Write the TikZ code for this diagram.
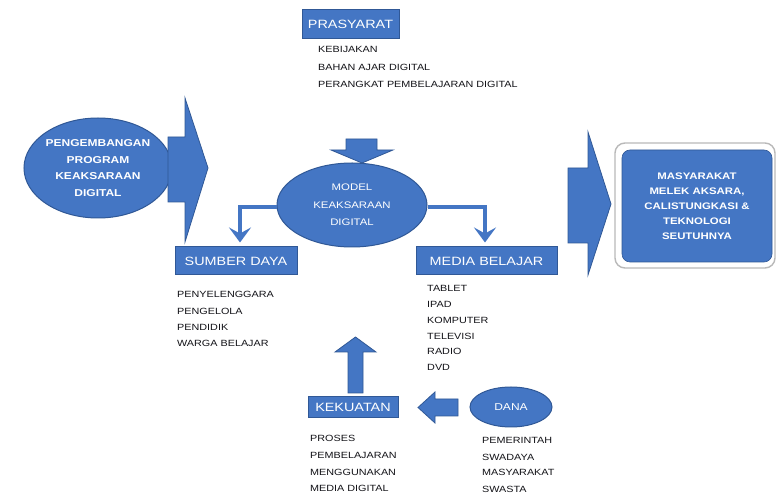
\documentclass[tikz,border=0pt]{standalone}
\usepackage{fontspec}
\setmainfont{Liberation Sans}[FakeStretch=1.2]
\usetikzlibrary{shapes.geometric,arrows.meta}
\definecolor{bfill}{RGB}{68,118,196}
\definecolor{bdraw}{RGB}{48,88,150}
\definecolor{txt}{RGB}{20,20,25}
\tikzset{
  hbox/.style={draw=bdraw,fill=bfill,line width=1pt,inner sep=0pt,text=white,font=\fontsize{12}{14}\selectfont},
  oval/.style={ellipse,draw=bdraw,fill=bfill,line width=1pt,inner sep=0pt,text=white,align=center},
  item/.style={anchor=west,inner sep=0pt,text=txt,font=\fontsize{9}{10}\selectfont},
  bigarrow/.style={draw=bdraw,fill=bfill,line width=0.8pt,line join=miter},
  conn/.style={draw=bfill,line width=3.5pt,-{Stealth[length=15pt,width=22pt,inset=6pt]},shorten >=4pt}
}
\begin{document}
\begin{tikzpicture}[x=1pt,y=-1pt]
\useasboundingbox (0,0) rectangle (777,502);
\fill[white] (0,0) rectangle (777,502);

% PRASYARAT
\node[hbox,minimum width=97pt,minimum height=29pt] (pras) at (350.5,24.5) {PRASYARAT};
\node[item] (p1) at (318,49) {KEBIJAKAN};
\node[item] (p2) at (318,67) {BAHAN AJAR DIGITAL};
\node[item] (p3) at (318,84) {PERANGKAT PEMBELAJARAN DIGITAL};

% left ellipse
\node[oval,minimum width=116pt,minimum height=100pt,font=\bfseries\fontsize{10}{16.5}\selectfont] (prog) at (98,168)
  {PENGEMBANGAN\\PROGRAM\\KEAKSARAAN\\DIGITAL};

% big arrow left
\filldraw[bigarrow] (168,137) -- (185,137) -- (185,98) -- (208,168) -- (185,242) -- (185,202) -- (168,202) -- cycle;

% down arrow above model
\filldraw[bigarrow] (346,139) -- (377,139) -- (377,150) -- (393,150) -- (362,163) -- (331,150) -- (346,150) -- cycle;

% model ellipse
\node[oval,minimum width=150pt,minimum height=84pt,font=\fontsize{9.5}{17.5}\selectfont] (model) at (352,205)
  {MODEL\\KEAKSARAAN\\DIGITAL};

% boxes
\node[hbox,minimum width=122pt,minimum height=28pt] (sd) at (236,261) {SUMBER DAYA};
\node[hbox,minimum width=141pt,minimum height=28pt] (mb) at (486.5,261) {MEDIA BELAJAR};
\node[hbox,minimum width=90pt,minimum height=21pt] (kk) at (353,407) {KEKUATAN};

% connectors
\coordinate (lc) at (240,207);
\coordinate (rc) at (485,207);
\draw[conn] (model.west |- lc) -- (lc) -- (sd.north -| lc);
\draw[conn] (model.east |- rc) -- (rc) -- (mb.north -| rc);

% lists
\node[item] (s1) at (177,294) {PENYELENGGARA};
\node[item] (s2) at (177,311) {PENGELOLA};
\node[item] (s3) at (177,327) {PENDIDIK};
\node[item] (s4) at (177,343) {WARGA BELAJAR};

\node[item] (m1) at (427,288) {TABLET};
\node[item] (m2) at (427,304) {IPAD};
\node[item] (m3) at (427,320) {KOMPUTER};
\node[item] (m4) at (427,336) {TELEVISI};
\node[item] (m5) at (427,351) {RADIO};
\node[item] (m6) at (427,367) {DVD};

% right big arrow
\filldraw[bigarrow] (568,168) -- (588,168) -- (588,132) -- (611,204) -- (588,275) -- (588,243) -- (568,243) -- cycle;

% MASYARAKAT box
\draw[draw=gray!55,fill=white,line width=1.4pt,rounded corners=10pt] (615,143) rectangle (775,268);
\node[draw=bdraw,fill=bfill,line width=0.6pt,rounded corners=8pt,minimum width=150pt,minimum height=112pt,inner sep=0pt,
      text=white,align=center,font=\bfseries\fontsize{9.5}{15}\selectfont] (mas) at (697,206)
  {MASYARAKAT\\MELEK AKSARA,\\CALISTUNGKASI \&\\TEKNOLOGI\\SEUTUHNYA};

% up arrow
\filldraw[bigarrow] (348,393) -- (363,393) -- (363,352) -- (376,352) -- (355.5,337) -- (335,352) -- (348,352) -- cycle;

% left arrow
\filldraw[bigarrow] (458,399) -- (435,399) -- (435,392) -- (418,407.5) -- (435,423) -- (435,416) -- (458,416) -- cycle;

% DANA
\node[oval,minimum width=82pt,minimum height=40pt,font=\fontsize{10}{12}\selectfont] (dana) at (511,407) {DANA};

\node[item] (k1) at (310,438) {PROSES};
\node[item] (k2) at (310,455) {PEMBELAJARAN};
\node[item] (k3) at (310,472) {MENGGUNAKAN};
\node[item] (k4) at (310,488) {MEDIA DIGITAL};

\node[item] (d1) at (482,440) {PEMERINTAH};
\node[item] (d2) at (482,457) {SWADAYA};
\node[item] (d3) at (482,472) {MASYARAKAT};
\node[item] (d4) at (482,489) {SWASTA};
\end{tikzpicture}
\end{document}
